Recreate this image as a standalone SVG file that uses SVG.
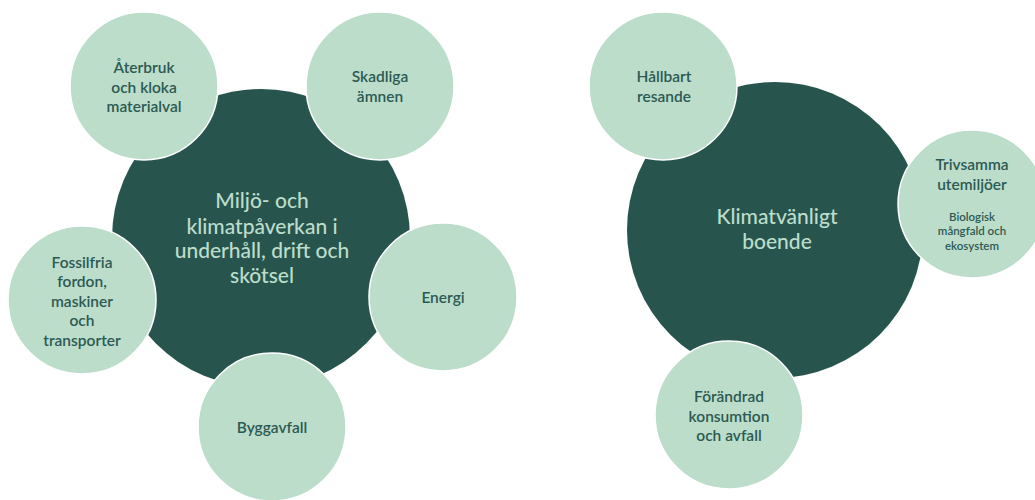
<svg xmlns="http://www.w3.org/2000/svg" width="1035" height="500" viewBox="0 0 1035 500">
<style>
.big{fill:#27554E}
.sm{fill:#BDDDCB;stroke:#ffffff;stroke-width:1.5}
.t{font-family:Lato,"Noto Sans",sans-serif;font-weight:600;font-size:15.5px;fill:#2B5A52;text-anchor:middle}
.ts{font-family:Lato,"Noto Sans",sans-serif;font-weight:600;font-size:11.5px;fill:#2B5A52;text-anchor:middle}
.tb{font-family:Lato,"Noto Sans",sans-serif;font-weight:500;font-size:21px;fill:#BDDDCB;text-anchor:middle}
</style>
<g id="connectors"/>
<g id="center-left">
<circle class="big" cx="261" cy="238" r="149"/>
<text class="tb" x="262" y="208">Miljö- och</text>
<text class="tb" x="262" y="234">klimatpåverkan i</text>
<text class="tb" x="262" y="258">underhåll, drift och</text>
<text class="tb" x="262" y="283">skötsel</text>
</g>
<g id="aterbruk">
<circle class="sm" cx="144" cy="86" r="74"/>
<text class="t" x="144" y="73">Återbruk</text>
<text class="t" x="144" y="93">och kloka</text>
<text class="t" x="144" y="112">materialval</text>
</g>
<g id="skadliga">
<circle class="sm" cx="380" cy="86" r="74"/>
<text class="t" x="380" y="82">Skadliga</text>
<text class="t" x="380" y="102">ämnen</text>
</g>
<g id="fossilfria">
<circle class="sm" cx="82" cy="300" r="74"/>
<text class="t" x="82" y="268">Fossilfria</text>
<text class="t" x="82" y="287">fordon,</text>
<text class="t" x="82" y="307">maskiner</text>
<text class="t" x="82" y="326">och</text>
<text class="t" x="82" y="346">transporter</text>
</g>
<g id="energi">
<circle class="sm" cx="443" cy="297" r="74"/>
<text class="t" x="443" y="303">Energi</text>
</g>
<g id="byggavfall">
<circle class="sm" cx="272" cy="427" r="74"/>
<text class="t" x="272" y="433">Byggavfall</text>
</g>
<g id="center-right">
<circle class="big" cx="775" cy="230" r="148"/>
<text class="tb" x="777" y="224">Klimatvänligt</text>
<text class="tb" x="777" y="249">boende</text>
</g>
<g id="hallbart">
<circle class="sm" cx="663" cy="86" r="74"/>
<text class="t" x="664" y="82">Hållbart</text>
<text class="t" x="664" y="102">resande</text>
</g>
<g id="trivsamma">
<circle class="sm" cx="972" cy="204" r="74"/>
<text class="t" x="972" y="170">Trivsamma</text>
<text class="t" x="972" y="190">utemiljöer</text>
<text class="ts" x="972" y="221">Biologisk</text>
<text class="ts" x="972" y="235">mångfald och</text>
<text class="ts" x="972" y="250">ekosystem</text>
</g>
<g id="forandrad">
<circle class="sm" cx="729" cy="415" r="74"/>
<text class="t" x="729" y="402">Förändrad</text>
<text class="t" x="729" y="422">konsumtion</text>
<text class="t" x="729" y="441">och avfall</text>
</g>
</svg>
